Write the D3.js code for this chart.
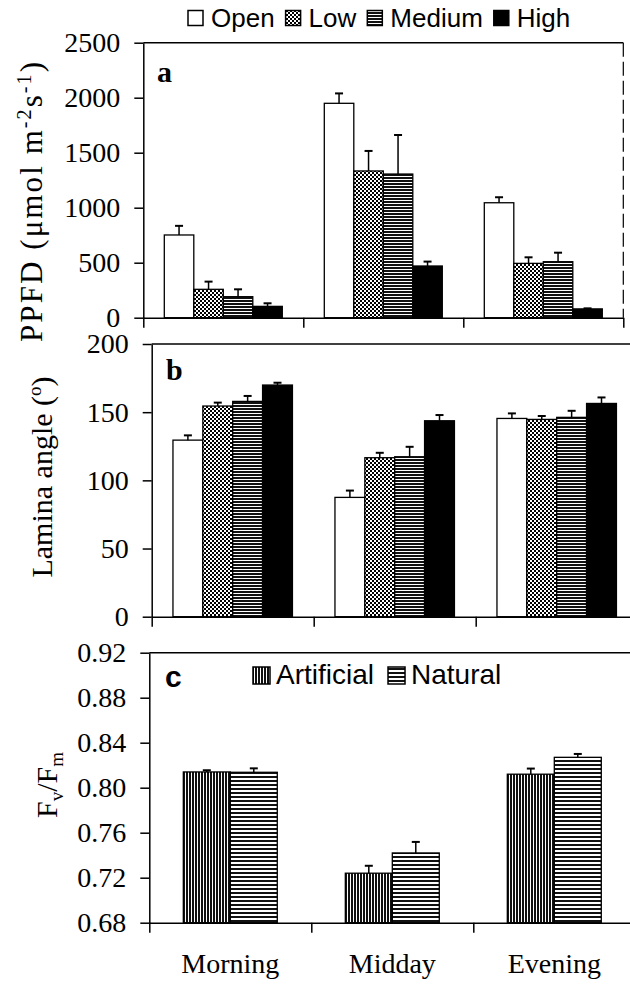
<!DOCTYPE html>
<html><head><meta charset="utf-8">
<script src="https://cdn.jsdelivr.net/npm/d3@7"></script>
<style>body{margin:0;background:#fff} svg{display:block}</style>
</head><body><svg id="c" width="630" height="985"></svg>
<script>
// ---------- data ----------
const categories = ["Morning", "Midday", "Evening"];
const canopySeries = ["Open", "Low", "Medium", "High"];
const lightSeries = ["Artificial", "Natural"];

const ppfdOpen = [752, 1949, 1045];
const ppfdOpenErr = [83, 90, 50];
const ppfdLow = [258, 1334, 494];
const ppfdLowErr = [70, 182, 55];
const ppfdMedium = [191, 1306, 509];
const ppfdMediumErr = [67, 355, 82];
const ppfdHigh = [103, 470, 80];
const ppfdHighErr = [28, 40, 5];

const angleOpen = [129.5, 87.5, 145.4];
const angleOpenErr = [3.5, 5, 3.7];
const angleLow = [154.5, 116.6, 144.7];
const angleLowErr = [2.5, 3.6, 2.5];
const angleMedium = [157.9, 117.3, 146.2];
const angleMediumErr = [4, 7.3, 4.8];
const angleHigh = [169.9, 143.7, 156.4];
const angleHighErr = [1.7, 4.2, 4.4];

const fvfmArtificial = [0.814, 0.724, 0.812];
const fvfmArtificialErr = [0.0015, 0.0066, 0.005];
const fvfmNatural = [0.8137, 0.742, 0.827];
const fvfmNaturalErr = [0.0035, 0.0098, 0.003];

const ppfdTicks = [0, 500, 1000, 1500, 2000, 2500];
const angleTicks = [0, 50, 100, 150, 200];
const fvfmTicks = [0.68, 0.72, 0.76, 0.80, 0.84, 0.88, 0.92];
const fvfmTickLabels = ["0.68", "0.72", "0.76", "0.80", "0.84", "0.88", "0.92"];

// ---------- setup ----------
const SERIF = "'Liberation Serif','Times New Roman',serif";
const SANS = "'Liberation Sans',Arial,sans-serif";
const svg = d3.select("#c");
const defs = svg.append("defs");

function makePattern(id, w, h, rects, bg) {
  const p = defs.append("pattern").attr("id", id).attr("patternUnits", "userSpaceOnUse")
    .attr("width", w).attr("height", h);
  p.append("rect").attr("width", w).attr("height", h).attr("fill", bg);
  rects.forEach(r => p.append("rect").attr("x", r[0]).attr("y", r[1]).attr("width", r[2]).attr("height", r[3]).attr("fill", r[4]));
}
makePattern("pLow", 4, 4, [[0, 0, 2, 2, "#000"], [2, 2, 2, 2, "#000"]], "#fff");
makePattern("pMed", 3, 3, [[0, 2, 3, 1, "#fff"]], "#111");
makePattern("pArt", 3, 3, [[2, 0, 1, 3, "#fff"]], "#111");
makePattern("pNat", 4, 4, [[0, 0, 4, 2, "#111"]], "#fff");

const canopyFill = { Open: "#fff", Low: "url(#pLow)", Medium: "url(#pMed)", High: "#000" };
const lightFill = { Artificial: "url(#pArt)", Natural: "url(#pNat)" };

function panel(cfg) {
  const right = cfg.left + 3 * cfg.step;
  const x0 = d3.scaleBand().domain(categories).range([cfg.left, right])
    .paddingInner(cfg.pad).paddingOuter(cfg.pad / 2);
  const x1 = d3.scaleBand().domain(cfg.series).range([0, x0.bandwidth()]);
  const y = d3.scaleLinear().domain(cfg.domain).range([cfg.bottom, cfg.top]);
  const g = svg.append("g");

  // bars
  cfg.series.forEach((s, i) => {
    categories.forEach((c, j) => {
      const v = cfg.values[i][j], e = cfg.errs[i][j];
      const bx = x0(c) + x1(s), bw = x1.bandwidth();
      g.append("rect").attr("x", bx).attr("y", y(v)).attr("width", bw)
        .attr("height", y(cfg.domain[0]) - y(v))
        .attr("fill", cfg.fills[s]).attr("stroke", "#000").attr("stroke-width", 1.3);
      const cx = bx + bw / 2;
      g.append("line").attr("x1", cx).attr("x2", cx).attr("y1", y(v)).attr("y2", y(v + e))
        .attr("stroke", "#000").attr("stroke-width", 1.5);
      g.append("line").attr("x1", cx - 4).attr("x2", cx + 4).attr("y1", y(v + e)).attr("y2", y(v + e))
        .attr("stroke", "#000").attr("stroke-width", 2);
    });
  });

  // top border
  g.append("line").attr("x1", cfg.left).attr("x2", right).attr("y1", cfg.top).attr("y2", cfg.top)
    .attr("stroke", "#000").attr("stroke-width", 1.6);
  if (cfg.rightBorder) {
    g.append("line").attr("x1", right).attr("x2", right).attr("y1", cfg.top).attr("y2", cfg.bottom)
      .attr("stroke", "#000").attr("stroke-width", 1.2).attr("stroke-dasharray", "14,5");
  }

  // y axis
  const ya = g.append("g").attr("transform", `translate(${cfg.left},0)`)
    .call(d3.axisLeft(y).tickValues(cfg.ticks).tickFormat(cfg.fmt).tickSize(9).tickSizeOuter(0).tickPadding(14));
  ya.attr("font-family", SERIF).attr("font-size", 28);
  ya.selectAll("text").attr("fill", "#000");
  ya.selectAll("line,path").attr("stroke", "#000").attr("stroke-width", 1.5);

  // x axis with group boundary ticks
  const xb = d3.scaleLinear().domain([0, 3]).range([cfg.left, right]);
  const xa = g.append("g").attr("transform", `translate(0,${cfg.bottom})`)
    .call(d3.axisBottom(xb).tickValues([0, 1, 2, 3]).tickSize(10).tickSizeOuter(0).tickFormat(""));
  xa.selectAll("line,path").attr("stroke", "#000").attr("stroke-width", 1.5);

  return { x0, y };
}

// ---------- panel a ----------
panel({
  left: 143.3, top: 42.7, bottom: 317.7, step: 160, pad: 0.2625,
  domain: [0, 2500], ticks: ppfdTicks, fmt: d3.format("d"),
  series: canopySeries,
  values: [ppfdOpen, ppfdLow, ppfdMedium, ppfdHigh],
  errs: [ppfdOpenErr, ppfdLowErr, ppfdMediumErr, ppfdHighErr],
  fills: canopyFill, rightBorder: true
});

// ---------- panel b ----------
panel({
  left: 151.7, top: 344, bottom: 616.7, step: 162, pad: 0.2625,
  domain: [0, 200], ticks: angleTicks, fmt: d3.format("d"),
  series: canopySeries,
  values: [angleOpen, angleLow, angleMedium, angleHigh],
  errs: [angleOpenErr, angleLowErr, angleMediumErr, angleHighErr],
  fills: canopyFill, rightBorder: false
});

// ---------- panel c ----------
const pc = panel({
  left: 149.3, top: 652.7, bottom: 922.7, step: 162, pad: 0.42,
  domain: [0.68, 0.92], ticks: fvfmTicks, fmt: (d, i) => fvfmTickLabels[i],
  series: lightSeries,
  values: [fvfmArtificial, fvfmNatural],
  errs: [fvfmArtificialErr, fvfmNaturalErr],
  fills: lightFill, rightBorder: false
});

// category labels
svg.append("g").selectAll("text").data(categories).join("text")
  .attr("x", d => pc.x0(d) + pc.x0.bandwidth() / 2).attr("y", 973)
  .attr("text-anchor", "middle").attr("font-family", SERIF).attr("font-size", 28)
  .text(d => d);

// panel letters
svg.append("text").attr("x", 157).attr("y", 82).attr("font-family", SERIF).attr("font-weight", "bold").attr("font-size", 30).text("a");
svg.append("text").attr("x", 166).attr("y", 380).attr("font-family", SERIF).attr("font-weight", "bold").attr("font-size", 30).text("b");
svg.append("text").attr("x", 165).attr("y", 687).attr("font-family", SANS).attr("font-weight", "bold").attr("font-size", 30).text("c");

// axis titles
const ta = svg.append("text").attr("transform", "translate(42,202) rotate(-90)")
  .attr("text-anchor", "middle").attr("font-family", SERIF).attr("font-size", 31)
  .attr("textLength", 280).attr("lengthAdjust", "spacing");
ta.append("tspan").text("PPFD (\u03bcmol m");
ta.append("tspan").attr("dy", -11).attr("font-size", 20).text("-2");
ta.append("tspan").attr("dy", 11).text("s");
ta.append("tspan").attr("dy", -11).attr("font-size", 20).text("-1");
ta.append("tspan").attr("dy", 11).text(")");

const tb = svg.append("text").attr("transform", "translate(52,477) rotate(-90)")
  .attr("text-anchor", "middle").attr("font-family", SERIF).attr("font-size", 30);
tb.append("tspan").text("Lamina angle (");
tb.append("tspan").attr("dy", -11).attr("font-size", 19).text("o");
tb.append("tspan").attr("dy", 11).text(")");

const tc = svg.append("text").attr("transform", "translate(57,785) rotate(-90)")
  .attr("text-anchor", "middle").attr("font-family", SERIF).attr("font-size", 30);
tc.append("tspan").text("F");
tc.append("tspan").attr("dy", 6).attr("font-size", 19).text("v");
tc.append("tspan").attr("dy", -6).text("/F");
tc.append("tspan").attr("dy", 6).attr("font-size", 19).text("m");

// legends
function legend(items, fills, x, boxY, box, textY, size, gap1, gap2) {
  const g = svg.append("g");
  let cx = x;
  items.forEach(s => {
    g.append("rect").attr("x", cx).attr("y", boxY).attr("width", box).attr("height", box)
      .attr("fill", fills[s]).attr("stroke", "#000").attr("stroke-width", 1.5);
    const t = g.append("text").attr("x", cx + box + gap1).attr("y", textY)
      .attr("font-family", SANS).attr("font-size", size).text(s);
    cx = cx + box + gap1 + t.node().getComputedTextLength() + gap2;
  });
}
legend(canopySeries, canopyFill, 188, 10.5, 15, 27, 26, 8, 11);
legend(lightSeries, lightFill, 253, 667, 17, 684, 28, 6, 14);
</script>
</body></html>
